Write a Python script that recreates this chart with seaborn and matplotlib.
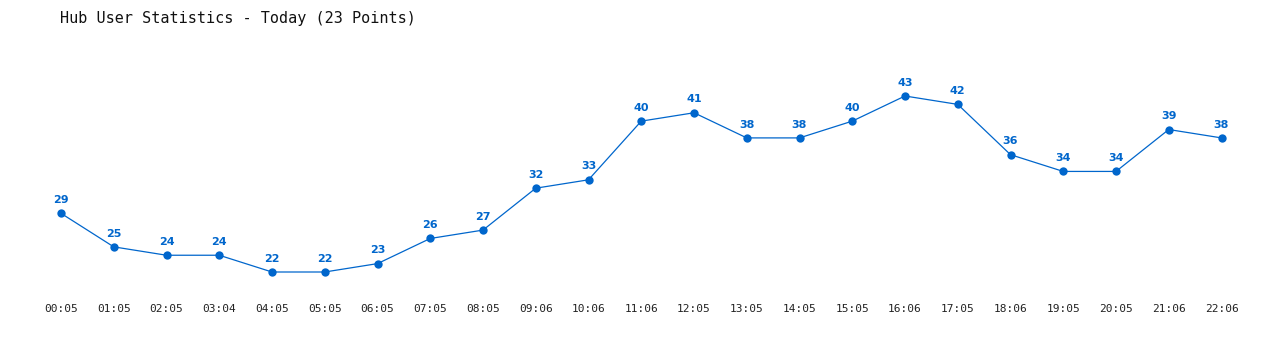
import matplotlib
matplotlib.use("Agg")
import matplotlib.pyplot as plt
import seaborn as sns
import pandas as pd

times = ["00:05", "01:05", "02:05", "03:04", "04:05", "05:05", "06:05", "07:05",
         "08:05", "09:06", "10:06", "11:06", "12:05", "13:05", "14:05", "15:05",
         "16:06", "17:05", "18:06", "19:05", "20:05", "21:06", "22:06"]
users = [29, 25, 24, 24, 22, 22, 23, 26, 27, 32, 33, 40, 41, 38, 38, 40,
         43, 42, 36, 34, 34, 39, 38]
title = "Hub User Statistics - Today (23 Points)"

df = pd.DataFrame({"idx": range(len(times)), "users": users})
color = "#0066CC"

sns.set_style("white")
W, H = 1280, 350
fig = plt.figure(figsize=(W / 100, H / 100), dpi=100)
bottom_px = 296
ax = fig.add_axes([0, (H - bottom_px) / H, 1, bottom_px / H])

sns.lineplot(data=df, x="idx", y="users", ax=ax, color=color, linewidth=0.9,
             marker="o", markersize=6, markeredgewidth=0, markerfacecolor=color)

ppu = (272 - 96) / 21.0
ax.set_ylim(22 - (bottom_px - 272) / ppu, 43 + 96 / ppu)
step = 52.75
ax.set_xlim(-61 / step, (1280 - 61) / step)

for i, v in enumerate(users):
    ax.annotate(str(v), (i, v), xytext=(0, 6), textcoords="offset points",
                ha="center", va="bottom", color=color, fontsize=8,
                fontweight="bold", family="DejaVu Sans")

ax.set_xticks(range(len(times)))
ax.set_xticklabels(times, family="DejaVu Sans Mono", fontsize=8, color="#222222")
ax.tick_params(axis="x", length=0, pad=6)
ax.set_yticks([])
ax.set_xlabel("")
ax.set_ylabel("")
for s in ax.spines.values():
    s.set_visible(False)
ax.patch.set_alpha(0)

fig.text(60 / W, 1 - 18 / H, title, family="DejaVu Sans Mono", fontsize=10.9,
         va="center", ha="left", color="#111111")

fig.savefig("out.png", dpi=100)
